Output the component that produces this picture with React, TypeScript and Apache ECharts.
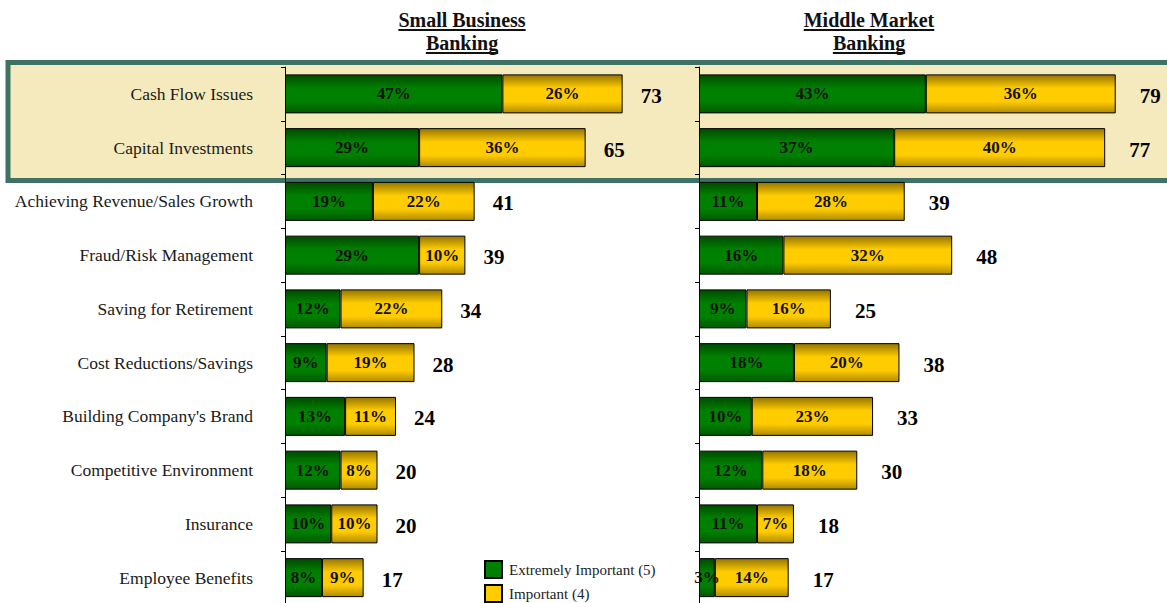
import React, { useEffect, useRef } from "react";
import * as echarts from "echarts";

const categories = [
  "Cash Flow Issues",
  "Capital Investments",
  "Achieving Revenue/Sales Growth",
  "Fraud/Risk Management",
  "Saving for Retirement",
  "Cost Reductions/Savings",
  "Building Company's Brand",
  "Competitive Environment",
  "Insurance",
  "Employee Benefits",
];
const sbExtreme = [47, 29, 19, 29, 12, 9, 13, 12, 10, 8];
const sbImportant = [26, 36, 22, 10, 22, 19, 11, 8, 10, 9];
const sbTotal = [73, 65, 41, 39, 34, 28, 24, 20, 20, 17];
const mmExtreme = [43, 37, 11, 16, 9, 18, 10, 12, 11, 3];
const mmImportant = [36, 40, 28, 32, 16, 20, 23, 18, 7, 14];
const mmTotal = [79, 77, 39, 48, 25, 38, 33, 30, 18, 17];
const seriesNames = ["Extremely Important (5)", "Important (4)"];
const panelTitles = ["Small Business", "Banking", "Middle Market", "Banking"];

const FONT = "'Liberation Serif', 'Times New Roman', serif";

const greenGrad = new echarts.graphic.LinearGradient(0, 0, 0, 1, [
  { offset: 0, color: "#004a00" },
  { offset: 0.35, color: "#008000" },
  { offset: 0.7, color: "#008000" },
  { offset: 1, color: "#005a00" },
]);
const goldGrad = new echarts.graphic.LinearGradient(0, 0, 0, 1, [
  { offset: 0, color: "#957500" },
  { offset: 0.35, color: "#ffcc00" },
  { offset: 0.7, color: "#ffcc00" },
  { offset: 1, color: "#b08c00" },
]);

function measure(text: string, font: string): number {
  const c = document.createElement("canvas").getContext("2d");
  if (!c) return text.length * 10;
  c.font = font;
  return c.measureText(text).width;
}

export default function App() {
  const ref = useRef<HTMLDivElement>(null);
  useEffect(() => {
    if (!ref.current) return;
    const chart = echarts.init(ref.current, null, { renderer: "svg" });
    const gridTop = 67;
    const gridH = 537.5;
    const barW = 39;

    const barLabel = {
      show: true,
      position: "inside",
      formatter: (p: any) => p.value + "%",
      fontFamily: FONT,
      fontWeight: "bold",
      fontSize: 17,
      color: "#111",
    };
    const totalLabel = (dist: number) => ({
      show: true,
      position: "right",
      distance: dist,
      offset: [0, 2],
      formatter: (p: any) => String(p.value[2]),
      fontFamily: FONT,
      fontWeight: "bold",
      fontSize: 21,
      color: "#000",
      opacity: 1,
    });

    const mkBars = (idx: number, ext: number[], imp: number[], stack: string) => [
      {
        name: seriesNames[0],
        type: "bar",
        stack,
        xAxisIndex: idx,
        yAxisIndex: idx,
        barWidth: barW,
        data: ext,
        itemStyle: { color: greenGrad, borderColor: "#000", borderWidth: 1 },
        label: barLabel,
      },
      {
        name: seriesNames[1],
        type: "bar",
        stack,
        xAxisIndex: idx,
        yAxisIndex: idx,
        barWidth: barW,
        data: imp,
        itemStyle: { color: goldGrad, borderColor: "#000", borderWidth: 1 },
        label: barLabel,
      },
    ];
    const mkTotals = (idx: number, ext: number[], imp: number[], tot: number[], dist: number) => ({
      type: "scatter",
      xAxisIndex: idx,
      yAxisIndex: idx,
      symbolSize: 0,
      silent: true,
      itemStyle: { opacity: 1 },
      data: categories.map((c, i) => [ext[i] + imp[i], c, tot[i]]),
      label: totalLabel(dist),
    });

    const yAxisBase = {
      type: "category",
      data: categories,
      inverse: true,
      axisLine: { show: true, lineStyle: { color: "#000", width: 1 } },
      axisTick: { show: true, length: 4, lineStyle: { color: "#000" } },
    };

    const titleFont = `bold 20px ${FONT}`;
    const titleBlock = (text: string, cx: number, y: number) => {
      const w = measure(text, titleFont);
      return [
        {
          type: "text",
          x: cx,
          y,
          style: {
            text,
            align: "center",
            verticalAlign: "middle",
            font: titleFont,
            fill: "#111",
          },
        },
        {
          type: "line",
          shape: { x1: cx - w / 2, y1: y + 10, x2: cx + w / 2, y2: y + 10 },
          style: { stroke: "#111", lineWidth: 2 },
        },
      ];
    };

    const legendFont = `15px ${FONT}`;
    const legendItem = (name: string, color: string, y: number) => [
      {
        type: "rect",
        shape: { x: 485, y, width: 17, height: 17 },
        style: { fill: color, stroke: "#000", lineWidth: 2 },
      },
      {
        type: "text",
        x: 509,
        y: y + 9,
        style: { text: name, verticalAlign: "middle", font: legendFont, fill: "#222" },
      },
    ];

    chart.setOption({
      animation: false,
      graphic: [
        {
          type: "rect",
          z: -10,
          shape: { x: 8, y: 62.5, width: 1200, height: 118 },
          style: { fill: "#f5eabd", stroke: "#3e7264", lineWidth: 5 },
        },
        ...titleBlock(panelTitles[0], 462, 20),
        ...titleBlock(panelTitles[1], 462, 43),
        ...titleBlock(panelTitles[2], 869, 20),
        ...titleBlock(panelTitles[3], 869, 43),
        ...legendItem(seriesNames[0], "#008000", 561),
        ...legendItem(seriesNames[1], "#ffcc00", 585),
      ],
      grid: [
        { left: 285, top: gridTop, width: 462.5, height: gridH, outerBoundsMode: "none", containLabel: false },
        { left: 699, top: gridTop, width: 88 * 5.275, height: gridH, outerBoundsMode: "none", containLabel: false },
      ],
      xAxis: [
        { type: "value", gridIndex: 0, min: 0, max: 100, show: false },
        { type: "value", gridIndex: 1, min: 0, max: 88, show: false },
      ],
      yAxis: [
        {
          ...yAxisBase,
          gridIndex: 0,
          axisLabel: {
            show: true,
            margin: 32,
            fontFamily: FONT,
            fontSize: 17.5,
            color: "#1a1a1a",
          },
        },
        { ...yAxisBase, gridIndex: 1, axisLabel: { show: false } },
      ],
      series: [
        ...mkBars(0, sbExtreme, sbImportant, "sb"),
        mkTotals(0, sbExtreme, sbImportant, sbTotal, 18),
        ...mkBars(1, mmExtreme, mmImportant, "mm"),
        mkTotals(1, mmExtreme, mmImportant, mmTotal, 24),
      ],
    });
    return () => chart.dispose();
  }, []);
  return (
    <div
      ref={ref}
      style={{ position: "absolute", left: 0, top: 0, width: 1167, height: 603, background: "#fff" }}
    />
  );
}
